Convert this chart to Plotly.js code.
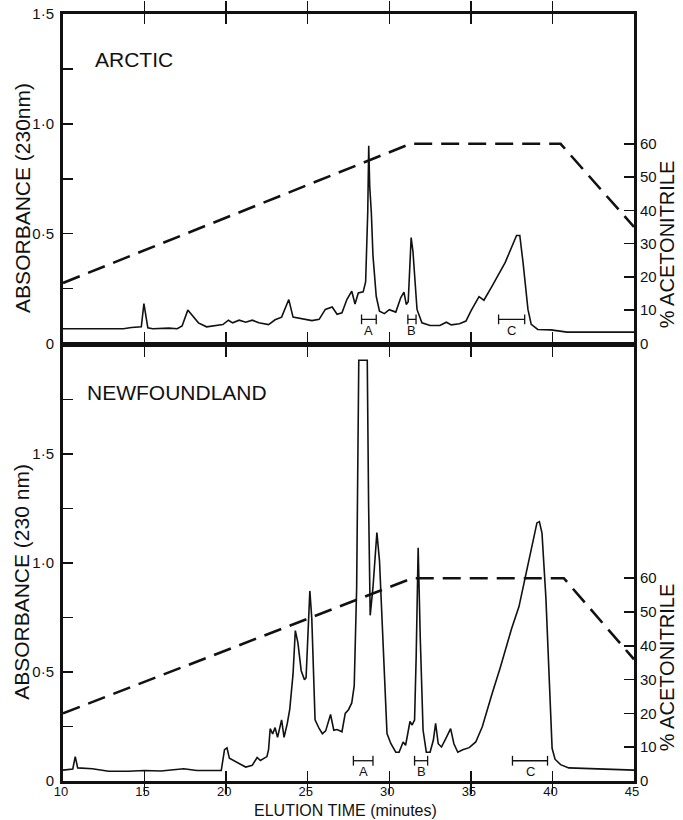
<!DOCTYPE html>
<html>
<head>
<meta charset="utf-8">
<script src="https://cdn.plot.ly/plotly-3.0.1.min.js"></script>
<style>
  html, body { margin: 0; padding: 0; background: #fff; }
  #chart { width: 683px; height: 820px; }
</style>
</head>
<body>
<div id="chart"></div>
<script>
// ---------- DATA ----------
// Elution time in minutes, absorbance at 230 nm
const arcticTime = [10.0, 13.7, 14.2, 14.8, 14.96, 15.2, 15.5, 16.0, 16.5, 17.0, 17.3, 17.65, 17.95, 18.3, 18.8, 19.3, 19.8, 20.14, 20.4, 20.8, 21.2, 21.6, 22.0, 22.6, 23.0, 23.4, 23.84, 24.1, 24.4, 24.8, 25.26, 25.7, 26.08, 26.5, 26.8, 27.1, 27.4, 27.7, 27.9, 28.1, 28.4, 28.55, 28.68, 28.74, 28.8, 28.9, 29.0, 29.2, 29.4, 29.7, 30.0, 30.4, 30.7, 30.9, 31.04, 31.16, 31.25, 31.34, 31.45, 31.54, 31.7, 32.0, 32.5, 33.1, 33.5, 33.8, 34.3, 34.7, 35.0, 35.5, 35.8, 36.3, 37.1, 37.8, 38.0, 38.2, 38.5, 38.7, 39.1, 39.9, 40.9, 45.0];
const arcticAbs  = [0.067, 0.067, 0.073, 0.076, 0.182, 0.071, 0.067, 0.070, 0.070, 0.067, 0.080, 0.152, 0.124, 0.094, 0.076, 0.082, 0.086, 0.106, 0.094, 0.106, 0.097, 0.106, 0.094, 0.086, 0.108, 0.120, 0.200, 0.120, 0.115, 0.110, 0.104, 0.110, 0.155, 0.166, 0.133, 0.140, 0.200, 0.238, 0.180, 0.230, 0.235, 0.280, 0.600, 0.900, 0.717, 0.595, 0.400, 0.215, 0.147, 0.136, 0.154, 0.143, 0.208, 0.234, 0.178, 0.190, 0.360, 0.482, 0.420, 0.337, 0.155, 0.094, 0.082, 0.082, 0.097, 0.085, 0.090, 0.102, 0.147, 0.213, 0.197, 0.261, 0.368, 0.492, 0.492, 0.368, 0.155, 0.087, 0.064, 0.062, 0.052, 0.052];

const newfTime = [10.0, 10.6, 10.75, 10.9, 11.8, 12.8, 14.0, 15.0, 16.0, 17.4, 18.2, 19.7, 19.9, 20.05, 20.2, 20.5, 21.2, 21.6, 21.9, 22.1, 22.5, 22.6, 22.7, 22.85, 23.0, 23.15, 23.4, 23.55, 23.75, 23.9, 24.1, 24.24, 24.4, 24.6, 24.8, 24.9, 25.0, 25.13, 25.25, 25.45, 25.7, 25.9, 26.1, 26.4, 26.6, 26.8, 27.1, 27.3, 27.5, 27.7, 27.85, 28.0, 28.13, 28.65, 28.73, 28.83, 29.0, 29.24, 29.4, 29.6, 29.86, 30.1, 30.4, 30.6, 30.85, 31.0, 31.27, 31.4, 31.55, 31.65, 31.77, 31.9, 32.07, 32.27, 32.5, 32.7, 32.84, 33.0, 33.2, 33.5, 33.76, 33.96, 34.2, 34.5, 34.9, 35.3, 35.7, 36.3, 36.8, 37.5, 37.95, 38.35, 38.8, 39.05, 39.2, 39.36, 39.6, 39.8, 39.98, 40.16, 40.5, 41.0, 43.0, 45.0];
const newfAbs  = [0.050, 0.055, 0.112, 0.060, 0.056, 0.045, 0.045, 0.048, 0.046, 0.056, 0.048, 0.048, 0.144, 0.152, 0.104, 0.091, 0.064, 0.072, 0.108, 0.094, 0.112, 0.144, 0.240, 0.216, 0.245, 0.200, 0.280, 0.200, 0.265, 0.330, 0.490, 0.690, 0.634, 0.506, 0.465, 0.474, 0.618, 0.872, 0.746, 0.281, 0.241, 0.217, 0.230, 0.305, 0.233, 0.236, 0.226, 0.310, 0.327, 0.358, 0.436, 0.888, 1.930, 1.930, 1.280, 0.760, 0.888, 1.140, 1.010, 0.654, 0.218, 0.171, 0.132, 0.132, 0.179, 0.164, 0.273, 0.257, 0.280, 0.576, 1.070, 0.654, 0.234, 0.132, 0.132, 0.187, 0.265, 0.171, 0.156, 0.200, 0.240, 0.171, 0.132, 0.143, 0.153, 0.179, 0.249, 0.400, 0.520, 0.700, 0.800, 0.940, 1.100, 1.184, 1.190, 1.137, 0.840, 0.450, 0.150, 0.100, 0.075, 0.060, 0.056, 0.050];

// Acetonitrile gradient (% acetonitrile)
const arcticGradTime = [10, 31.3, 40.5, 45];
const arcticGradPct  = [18.2, 60, 60, 35];
const newfGradTime   = [10, 31.4, 40.7, 45];
const newfGradPct    = [20, 60, 60, 36];

// Collected fractions
const fractionNames     = ['A', 'B', 'C'];
const arcticFracStart   = [28.3, 31.14, 36.7];
const arcticFracEnd     = [29.2, 31.64, 38.3];
const newfFracStart     = [27.8, 31.55, 37.55];
const newfFracEnd       = [29.0, 32.35, 39.7];

// Tick labels
const timeTicks   = [10, 15, 20, 25, 30, 35, 40, 45];
const absTicksTop = [0, 0.25, 0.5, 0.75, 1.0, 1.25, 1.5];
const absTextTop  = ['0', '', '0·5', '', '1·0', '', '1·5'];
const absTicksBot = [0, 0.25, 0.5, 0.75, 1.0, 1.25, 1.5, 1.75];
const absTextBot  = ['0', '', '0·5', '', '1·0', '', '1·5', ''];
const pctTicks    = [0, 10, 20, 30, 40, 50, 60];

// ---------- DRAWING ----------
const FONT = 'Liberation Sans, Arial, sans-serif';
const black = '#111';

function bracketTrace(starts, ends, h, xa, ya) {
  const xs = [], ys = [];
  starts.forEach((s, i) => { xs.push(s, ends[i], null); ys.push(h, h, null); });
  return {
    x: xs, y: ys, xaxis: xa, yaxis: ya, mode: 'lines+markers', type: 'scatter',
    line: {color: black, width: 1.3},
    marker: {symbol: 'line-ns-open', size: 7, color: black, line: {width: 1.3, color: black}},
    hoverinfo: 'skip', showlegend: false, connectgaps: false
  };
}

const traces = [
  {x: arcticTime, y: arcticAbs, xaxis: 'x2', yaxis: 'y3', mode: 'lines', type: 'scatter',
   line: {color: black, width: 1.6}, showlegend: false},
  {x: arcticGradTime, y: arcticGradPct, xaxis: 'x2', yaxis: 'y4', mode: 'lines', type: 'scatter',
   line: {color: black, width: 2.6, dash: '18px,9px'}, showlegend: false},
  {x: newfTime, y: newfAbs, xaxis: 'x', yaxis: 'y', mode: 'lines', type: 'scatter',
   line: {color: black, width: 1.6}, showlegend: false},
  {x: newfGradTime, y: newfGradPct, xaxis: 'x', yaxis: 'y2', mode: 'lines', type: 'scatter',
   line: {color: black, width: 2.6, dash: '18px,9px'}, showlegend: false},
  bracketTrace(arcticFracStart, arcticFracEnd, 0.11, 'x2', 'y3'),
  bracketTrace(newfFracStart, newfFracEnd, 0.093, 'x', 'y')
];

const annotations = [];
fractionNames.forEach((n, i) => {
  annotations.push({x: (arcticFracStart[i] + arcticFracEnd[i]) / 2, y: 0.058, xref: 'x2', yref: 'y3',
    text: n, showarrow: false, font: {family: FONT, size: 13, color: black}});
  annotations.push({x: (newfFracStart[i] + newfFracEnd[i]) / 2, y: 0.042, xref: 'x', yref: 'y',
    text: n, showarrow: false, font: {family: FONT, size: 13, color: black}});
});
const titleFont = {family: FONT, size: 21, color: black};
// paper coordinates: plot area spans y = 14..781 px (767 px)
annotations.push(
  {xref: 'paper', yref: 'paper', x: 0.0525, y: 0.9413, xanchor: 'left', yanchor: 'middle',
   text: 'ARCTIC', showarrow: false, font: {family: FONT, size: 21, color: black}},
  {xref: 'paper', yref: 'paper', x: 0.0385, y: 0.5059, xanchor: 'left', yanchor: 'middle',
   text: 'NEWFOUNDLAND', showarrow: false, font: {family: FONT, size: 21, color: black}},
  {xref: 'paper', yref: 'paper', x: -0.072, y: 0.7601, textangle: -90, xanchor: 'center', yanchor: 'middle',
   text: 'ABSORBANCE (230nm)', showarrow: false, font: titleFont},
  {xref: 'paper', yref: 'paper', x: -0.072, y: 0.2595, textangle: -90, xanchor: 'center', yanchor: 'middle',
   text: 'ABSORBANCE (230 nm)', showarrow: false, font: titleFont},
  {xref: 'paper', yref: 'paper', x: 1.058, y: 0.6988, textangle: -90, xanchor: 'center', yanchor: 'middle',
   text: '% ACETONITRILE', showarrow: false, font: {family: FONT, size: 20, color: black}},
  {xref: 'paper', yref: 'paper', x: 1.058, y: 0.1473, textangle: -90, xanchor: 'center', yanchor: 'middle',
   text: '% ACETONITRILE', showarrow: false, font: {family: FONT, size: 20, color: black}},
  {xref: 'paper', yref: 'paper', x: 0.4956, y: -0.0508, xanchor: 'center', yanchor: 'bottom',
   borderpad: 0, text: 'ELUTION TIME (minutes)', showarrow: false, font: {family: FONT, size: 16, color: black}}
);

const tickFont = {family: FONT, size: 15, color: black};
const xCommon = {
  range: [10, 45], tickvals: timeTicks, ticks: 'inside', ticklen: 10, tickwidth: 1.5, tickcolor: black,
  showline: true, linewidth: 3, linecolor: black, mirror: 'allticks',
  showgrid: false, zeroline: false, tickfont: {family: FONT, size: 13, color: black},
  ticklabelstandoff: -4, ticklabelshift: -2
};
const yLeftCommon = {
  ticks: 'inside', ticklen: 10, tickwidth: 1.5, tickcolor: black, showline: true, linewidth: 3,
  linecolor: black, showgrid: false, zeroline: false, tickfont: tickFont, ticklabelstandoff: 3
};
const yRightCommon = {
  side: 'right', tickvals: pctTicks, ticks: 'inside', ticklen: 10, tickwidth: 1.5, tickcolor: black,
  showline: true, linewidth: 3, linecolor: black, showgrid: false, zeroline: false, tickfont: tickFont,
  ticklabelstandoff: 0
};

const layout = {
  width: 683, height: 820,
  margin: {l: 63, r: 49, t: 14, b: 39},
  paper_bgcolor: '#fff', plot_bgcolor: 'rgba(0,0,0,0)',
  showlegend: false,
  xaxis: Object.assign({}, xCommon, {anchor: 'y', domain: [0, 1]}),
  xaxis2: Object.assign({}, xCommon, {anchor: 'y3', domain: [0, 1], showticklabels: false}),
  yaxis: Object.assign({}, yLeftCommon, {anchor: 'x', domain: [0, 0.5684], range: [0, 2.0],
    tickvals: absTicksBot, ticktext: absTextBot}),
  yaxis2: Object.assign({}, yRightCommon, {anchor: 'x', overlaying: 'y', range: [0, 129]}),
  yaxis3: Object.assign({}, yLeftCommon, {anchor: 'x2', domain: [0.5704, 1], range: [0, 1.5],
    tickvals: absTicksTop, ticktext: absTextTop}),
  yaxis4: Object.assign({}, yRightCommon, {anchor: 'x2', overlaying: 'y3', range: [0, 99]}),
  annotations: annotations
};

Plotly.newPlot('chart', traces, layout, {staticPlot: true, displayModeBar: false});
</script>
</body>
</html>
